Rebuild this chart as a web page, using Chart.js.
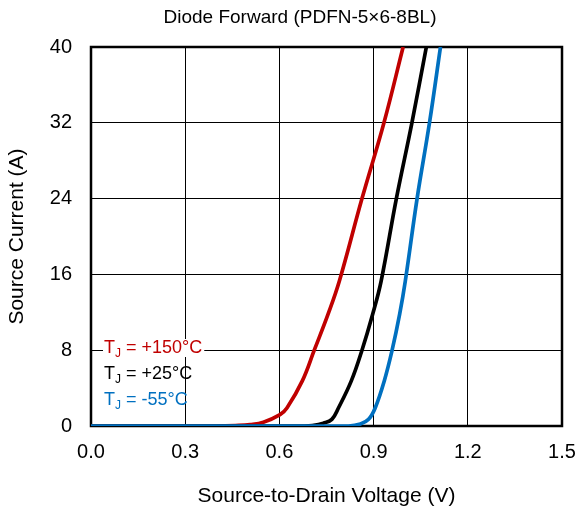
<!DOCTYPE html>
<html>
<head>
<meta charset="utf-8">
<script src="https://cdn.jsdelivr.net/npm/chart.js@4"></script>
<style>
  html, body { margin: 0; padding: 0; background: #fff; }
  #wrap { width: 576px; height: 514px; }
</style>
</head>
<body>
<div id="wrap"><canvas id="diodeChart"></canvas></div>
<script>
// values
const vHot = [0, 0.40, 0.46, 0.507, 0.549, 0.602, 0.624, 0.673, 0.711, 0.755, 0.791, 0.863, 0.933, 0.994];
const iHot = [0, 0, 0.05, 0.15, 0.4, 1.2, 1.9, 4.76, 8, 11.8, 15.3, 24, 32, 40];

const vRoom = [0, 0.68, 0.705, 0.74, 0.767, 0.788, 0.829, 0.863, 0.897, 0.924, 0.9725, 1.022, 1.068];
const iRoom = [0, 0, 0.05, 0.3, 0.7, 1.9, 4.76, 8, 11.8, 15.3, 24, 32, 40];

const vCold = [0, 0.82, 0.858, 0.884, 0.905, 0.934, 0.959, 0.983, 1.001, 1.0385, 1.078, 1.113];
const iCold = [0, 0, 0.2, 0.7, 1.9, 4.76, 8, 11.8, 15.3, 24, 32, 40];

const xTicks = [0, 0.3, 0.6, 0.9, 1.2, 1.5];
const yTicks = [0, 8, 16, 24, 32, 40];

const chartTitle = 'Diode Forward (PDFN-5×6-8BL)';
const seriesNames = ['+150°C', '+25°C', '-55°C'];
const seriesColors = ['#C00000', '#000000', '#0070C0'];

const FONT = 'Arial, "Liberation Sans", sans-serif';

function pts(xs, ys) {
  return xs.map((x, i) => ({ x: x, y: ys[i] }));
}

// thick frame round the plot area, under the curves
const framePlugin = {
  id: 'frame',
  beforeDatasetsDraw(chart) {
    const { ctx, chartArea: a } = chart;
    ctx.save();
    ctx.strokeStyle = '#000';
    ctx.lineWidth = 2.5;
    ctx.strokeRect(a.left, a.top, a.right - a.left, a.bottom - a.top);
    ctx.restore();
  }
};

// title sits a little left of the plot centre in the original
const titlePlugin = {
  id: 'topTitle',
  afterDraw(chart) {
    const { ctx } = chart;
    ctx.save();
    ctx.font = '19px ' + FONT;
    ctx.fillStyle = '#000';
    ctx.textAlign = 'center';
    ctx.textBaseline = 'middle';
    ctx.fillText(chartTitle, 300, 18);
    ctx.restore();
  }
};

// T_J labels in the lower left corner
const labelPlugin = {
  id: 'tjLabels',
  afterDatasetsDraw(chart) {
    const { ctx, chartArea: a } = chart;
    ctx.save();
    ctx.textBaseline = 'middle';
    seriesNames.forEach((name, i) => {
      const x = a.left + 13;
      const y = a.bottom - 78 + i * 26;
      ctx.font = '18px ' + FONT;
      const wT = ctx.measureText('T').width;
      ctx.font = '12px ' + FONT;
      const wJ = ctx.measureText('J').width;
      ctx.font = '18px ' + FONT;
      const rest = ' = ' + name;
      const wR = ctx.measureText(rest).width;
      if (i === 0) {
        ctx.fillStyle = '#fff';
        ctx.fillRect(x - 1, y - 9, wT + wJ + wR + 3, 18);
      }
      ctx.fillStyle = seriesColors[i];
      ctx.fillText('T', x, y);
      ctx.font = '12px ' + FONT;
      ctx.fillText('J', x + wT, y + 6);
      ctx.font = '18px ' + FONT;
      ctx.fillText(rest, x + wT + wJ, y);
    });
    ctx.restore();
  }
};

const ctx = document.getElementById('diodeChart').getContext('2d');
new Chart(ctx, {
  type: 'line',
  data: {
    datasets: [
      { label: seriesNames[0], data: pts(vHot, iHot), borderColor: seriesColors[0], order: 3 },
      { label: seriesNames[1], data: pts(vRoom, iRoom), borderColor: seriesColors[1], order: 2 },
      { label: seriesNames[2], data: pts(vCold, iCold), borderColor: seriesColors[2], order: 1 }
    ]
  },
  options: {
    responsive: true,
    maintainAspectRatio: false,
    animation: false,
    parsing: false,
    elements: {
      point: { radius: 0 },
      line: { borderWidth: 3.7, tension: 0.4, fill: false }
    },
    layout: { padding: { top: 47, left: 0, right: 0, bottom: 0 } },
    plugins: {
      legend: { display: false },
      tooltip: { enabled: false },
      title: { display: false }
    },
    scales: {
      x: {
        type: 'linear',
        min: 0,
        max: 1.5,
        afterBuildTicks: s => { s.ticks = xTicks.map(v => ({ value: v })); },
        ticks: {
          color: '#000',
          font: { family: FONT, size: 20 },
          padding: 14,
          maxRotation: 0,
          callback: v => Number(v).toFixed(1)
        },
        grid: { color: '#000', lineWidth: 1, drawTicks: false },
        border: { display: false },
        title: {
          display: true,
          text: 'Source-to-Drain Voltage (V)',
          color: '#000',
          font: { family: FONT, size: 21 },
          padding: { top: 20, bottom: 5 }
        },
        afterFit: s => { s.height = 88; s.paddingRight = 14; }
      },
      y: {
        type: 'linear',
        min: 0,
        max: 40,
        afterBuildTicks: s => { s.ticks = yTicks.map(v => ({ value: v })); },
        ticks: {
          color: '#000',
          font: { family: FONT, size: 20 },
          padding: 19
        },
        grid: { color: '#000', lineWidth: 1, drawTicks: false },
        border: { display: false },
        title: {
          display: true,
          text: 'Source Current (A)',
          color: '#000',
          font: { family: FONT, size: 21 },
          padding: { top: 5, bottom: 4 }
        },
        afterFit: s => { s.width = 91; s.paddingTop = 0; }
      }
    }
  },
  plugins: [framePlugin, labelPlugin, titlePlugin]
});
</script>
</body>
</html>
